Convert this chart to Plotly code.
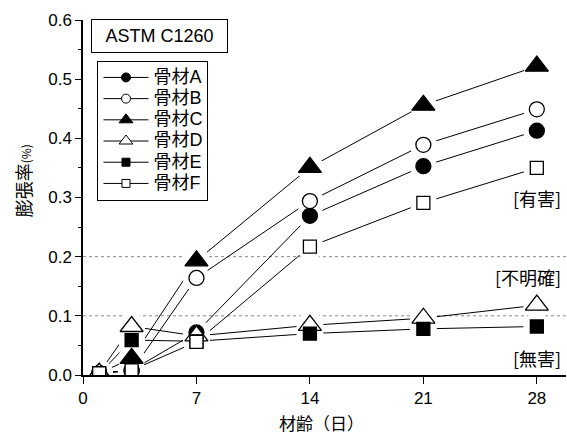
import plotly.graph_objects as go

# ---- data ----
days = [1, 3, 7, 14, 21, 28]
series_names = ["骨材A", "骨材B", "骨材C", "骨材D", "骨材E", "骨材F"]
agg_A = [0.003, 0.008, 0.072, 0.269, 0.353, 0.413]
agg_B = [0.003, 0.007, 0.164, 0.294, 0.389, 0.449]
agg_C = [0.003, 0.028, 0.193, 0.351, 0.456, 0.522]
agg_D = [0.003, 0.082, 0.066, 0.084, 0.096, 0.118]
agg_E = [0.002, 0.059, 0.057, 0.070, 0.078, 0.082]
agg_F = [0.003, 0.008, 0.056, 0.217, 0.291, 0.350]
series_values = [agg_A, agg_B, agg_C, agg_D, agg_E, agg_F]

x_ticks = [0, 7, 14, 21, 28]
threshold_levels = [0.1, 0.2]
zone_labels = ["[有害]", "[不明確]", "[無害]"]
zone_label_y = [0.299, 0.166, 0.029]

# ---- styles ----
symbols = ["circle", "circle", "triangle-up", "triangle-up", "square", "square"]
fills = ["black", "white", "black", "white", "black", "white"]
sizes = [15, 15, 20, 20, 13, 13]
legend_sizes = [9, 9, 12, 12, 8, 8]

LAT = "Liberation Sans, Arial, Noto Sans CJK JP"
CJK = "Noto Sans CJK JP"

fig = go.Figure()

# lines
for name, vals in zip(series_names, series_values):
    fig.add_trace(go.Scatter(x=days, y=vals, mode="lines",
                             line=dict(color="black", width=1),
                             showlegend=False, hoverinfo="skip"))
# white halos to create gaps between lines and markers
for vals in series_values:
    fig.add_trace(go.Scatter(x=days, y=vals, mode="markers",
                             marker=dict(symbol="circle", size=27, color="white",
                                         line=dict(width=0)),
                             showlegend=False, hoverinfo="skip"))
# markers
for name, vals, sym, fc, sz in zip(series_names, series_values, symbols, fills, sizes):
    fig.add_trace(go.Scatter(x=days, y=vals, mode="markers", name=name,
                             marker=dict(symbol=sym, size=sz, color=fc,
                                         line=dict(color="black", width=1.3)),
                             showlegend=False))
# legend entries
for name, sym, fc, sz in zip(series_names, symbols, fills, legend_sizes):
    fig.add_trace(go.Scatter(x=[None], y=[None], mode="lines+markers",
                             name="<span style='font-size:18px'>" + name + "</span>",
                             line=dict(color="black", width=1),
                             marker=dict(symbol=sym, size=sz, color=fc,
                                         line=dict(color="black", width=1))))

shapes = []
for lvl in threshold_levels:
    shapes.append(dict(type="line", xref="paper", x0=0, x1=1, yref="y", y0=lvl, y1=lvl,
                       line=dict(color="#888888", width=1, dash="dot"), layer="below"))

annotations = [
    dict(text="ASTM C1260", xref="paper", yref="paper", x=0.016, y=1.003,
         xanchor="left", yanchor="top", showarrow=False,
         font=dict(family=LAT, size=18, color="black"),
         bordercolor="black", borderwidth=1, borderpad=5, bgcolor="white",
         width=125, height=22),
    dict(text="材齢（日）", xref="paper", yref="paper", x=0.493, y=0, yshift=-47,
         xanchor="center", yanchor="middle", showarrow=False,
         font=dict(family=CJK, size=17, color="black")),
    dict(text="膨張率<span style='font-size:12px'>(%)</span>", xref="paper", yref="paper",
         x=-0.124, y=0.546, textangle=-90, xanchor="center", yanchor="middle",
         showarrow=False, font=dict(family=CJK, size=18, color="black")),
]
for lab, ly in zip(zone_labels, zone_label_y):
    annotations.append(dict(text=lab, xref="x", yref="y", x=29.6, y=ly,
                            xanchor="right", yanchor="middle", showarrow=False,
                            font=dict(family=CJK, size=18, color="black")))

fig.update_layout(
    width=567, height=436,
    margin=dict(l=83, r=1, t=20, b=61),
    paper_bgcolor="white", plot_bgcolor="white",
    font=dict(family=LAT, size=17, color="black"),
    shapes=shapes, annotations=annotations,
    showlegend=True,
    legend=dict(x=0.03, y=0.885, xanchor="left", yanchor="top",
                bgcolor="white", bordercolor="black", borderwidth=1,
                font=dict(family=LAT, size=14, color="black"),
                tracegroupgap=0, itemclick=False, itemwidth=45),
    xaxis=dict(range=[0, 29.8], tickvals=x_ticks, showgrid=False, zeroline=False,
               showline=True, linecolor="black", linewidth=1.5,
               ticks="outside", ticklen=7, tickwidth=1.3, tickcolor="black",
               tickfont=dict(family=LAT, size=17)),
    yaxis=dict(range=[0, 0.6], dtick=0.1, tickformat=".1f", showgrid=False,
               zeroline=False, showline=True, linecolor="black", linewidth=1.5,
               ticks="outside", ticklen=6, tickwidth=1.3, tickcolor="black",
               tickfont=dict(family=LAT, size=17),
               minor=dict(dtick=0.05, ticks="outside", ticklen=3, tickcolor="black",
                          showgrid=False)),
)

fig.write_html("out.html")
